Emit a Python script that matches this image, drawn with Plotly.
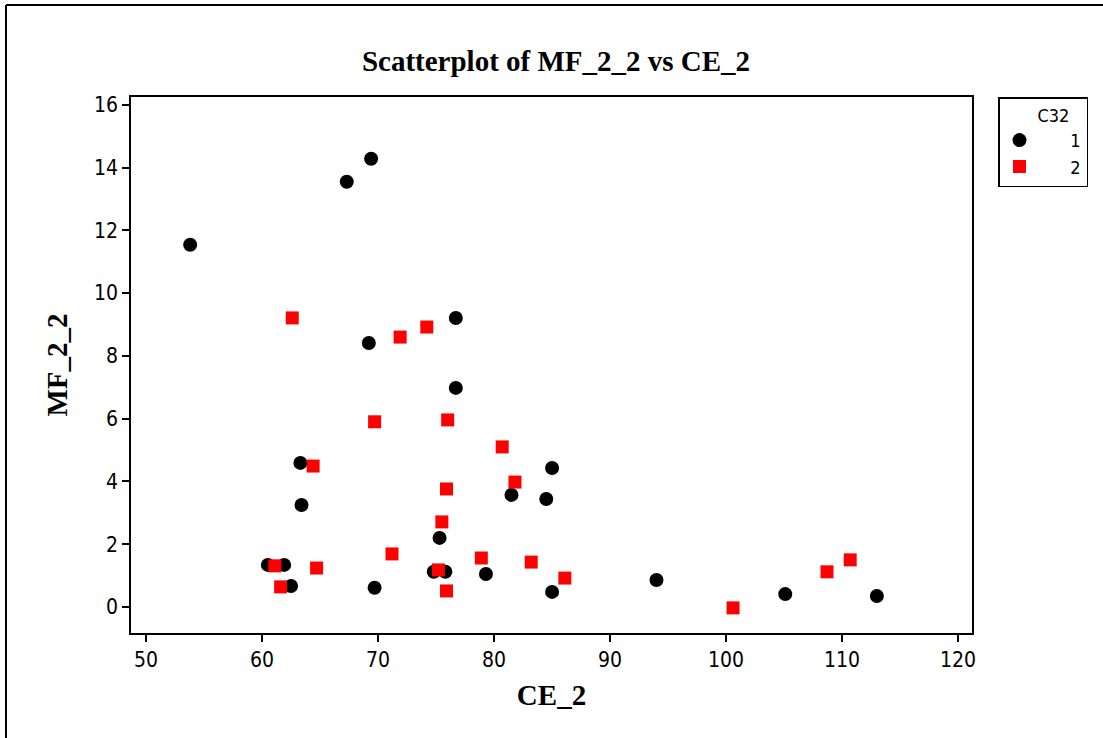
import plotly.graph_objects as go

# Group 1 (C32 = 1) - black circles
ce_g1 = [53.8, 67.3, 69.4, 69.2, 76.7, 76.7, 63.3, 63.4, 85.0, 81.5, 84.5, 75.3,
         60.5, 61.9, 62.5, 69.7, 74.8, 75.8, 79.3, 85.0, 94.0, 105.1, 113.0]
mf_g1 = [11.54, 13.55, 14.28, 8.41, 9.21, 6.98, 4.59, 3.25, 4.43, 3.57, 3.44, 2.20,
         1.34, 1.34, 0.67, 0.61, 1.12, 1.12, 1.05, 0.48, 0.86, 0.41, 0.35]

# Group 2 (C32 = 2) - red squares
ce_g2 = [62.6, 71.9, 74.2, 69.7, 76.0, 64.4, 80.7, 81.8, 75.9, 75.5, 71.2, 64.7,
         61.1, 61.6, 75.2, 75.9, 78.9, 83.2, 86.1, 100.6, 108.7, 110.7]
mf_g2 = [9.21, 8.60, 8.92, 5.90, 5.96, 4.49, 5.10, 3.98, 3.76, 2.71, 1.69, 1.24,
         1.31, 0.64, 1.18, 0.51, 1.56, 1.43, 0.92, -0.03, 1.12, 1.50]

group_names = ["1", "2"]
legend_title = "C32"
x_ticks = [50, 60, 70, 80, 90, 100, 110, 120]
y_ticks = [0, 2, 4, 6, 8, 10, 12, 14, 16]

tick_font = dict(family="DejaVu Sans Condensed, DejaVu Sans", size=21, color="black")
serif_bold = "Liberation Serif, Times New Roman, serif"
leg_font = dict(family="DejaVu Sans Condensed, DejaVu Sans", size=18, color="black")

pad = "\u00a0" * 6
fig = go.Figure()
fig.add_trace(go.Scatter(x=ce_g1, y=mf_g1, mode="markers", name=pad + group_names[0],
                         marker=dict(symbol="circle", size=14, color="black")))
fig.add_trace(go.Scatter(x=ce_g2, y=mf_g2, mode="markers", name=pad + group_names[1],
                         marker=dict(symbol="square", size=13, color="#ff0000")))

W, H = 1103, 738
L, R, T, B = 131, 972, 97, 633
pw, ph = R - L, B - T

def px(xp):
    return (xp - L) / pw

def py(yp):
    return (B - yp) / ph

shapes = [
    dict(type="line", xref="paper", yref="paper", x0=px(6), x1=px(6), y0=py(745), y1=py(5),
         line=dict(color="black", width=2)),
    dict(type="line", xref="paper", yref="paper", x0=px(6), x1=px(1110), y0=py(5), y1=py(5),
         line=dict(color="black", width=2)),
]

fig.update_layout(
    width=W, height=H,
    margin=dict(l=L, r=W - R, t=T, b=H - B),
    paper_bgcolor="white", plot_bgcolor="white",
    title=dict(text="<b>Scatterplot of MF_2_2 vs CE_2</b>", x=556 / W, xanchor="center",
               y=1 - 61 / H, yanchor="middle",
               font=dict(family=serif_bold, size=29, color="black")),
    xaxis=dict(range=[48.7, 121.2], tickvals=x_ticks, ticks="outside", ticklen=7, tickwidth=1.5,
               tickcolor="black", showline=True, linecolor="black", linewidth=1.5, mirror=True,
               showgrid=False, zeroline=False, tickfont=tick_font,
               title=dict(text="<b>CE_2</b>", font=dict(family=serif_bold, size=29, color="black"),
                          standoff=14)),
    yaxis=dict(range=[-0.83, 16.25], tickvals=y_ticks, ticks="outside", ticklen=7, tickwidth=1.5,
               tickcolor="black", showline=True, linecolor="black", linewidth=1.5, mirror=True,
               showgrid=False, zeroline=False, tickfont=tick_font,
               title=dict(text="<b>MF_2_2</b>", font=dict(family=serif_bold, size=29, color="black"),
                          standoff=18)),
    legend=dict(x=px(998), y=1, xanchor="left", yanchor="top", bordercolor="black", borderwidth=1.5,
                bgcolor="white", font=leg_font,
                title=dict(text="\u00a0" * 7 + legend_title, font=leg_font),
                tracegroupgap=0),
    shapes=shapes,
    showlegend=True,
)

fig.write_html("out.html")
